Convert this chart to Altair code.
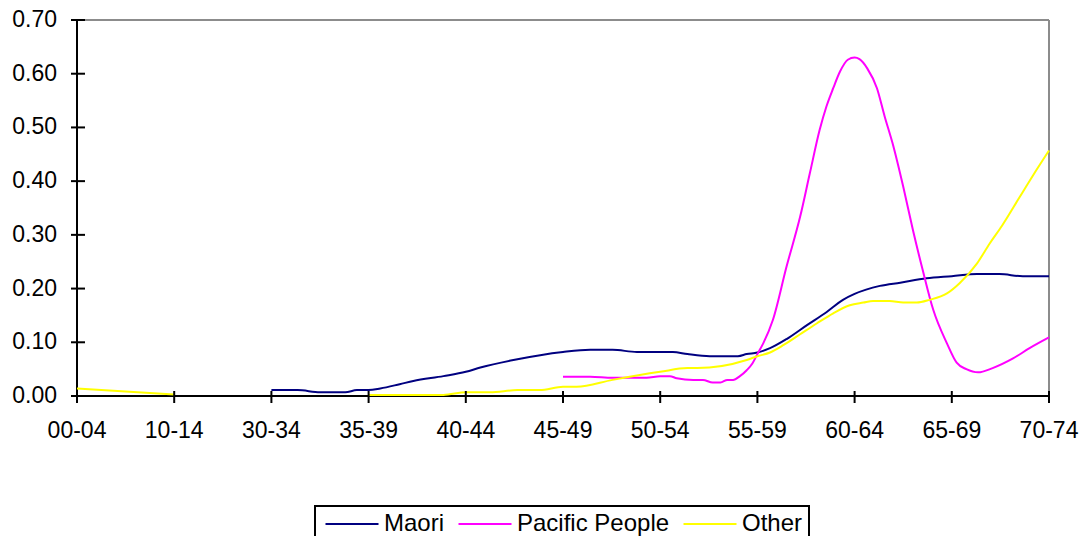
import altair as alt
import pandas as pd

# ---- data ----
age_labels = ["00-04", "10-14", "30-34", "35-39", "40-44", "45-49",
              "50-54", "55-59", "60-64", "65-69", "70-74"]
y_tick_values = [0.0, 0.1, 0.2, 0.3, 0.4, 0.5, 0.6, 0.7]
series_names = ["Maori", "Pacific People", "Other"]
series_colors = ["#000080", "#FF00FF", "#FFFF00"]

# positions are in age-group units (0 = "00-04" ... 10 = "70-74")
maori_pos = [2.0, 2.27, 2.5, 2.76, 2.88, 3.0, 3.12, 3.32, 3.46, 3.77, 4.0, 4.15,
             4.49, 5.0, 5.28, 5.51, 5.76, 6.0, 6.13, 6.28, 6.51, 6.8, 6.89, 7.0,
             7.13, 7.3, 7.51, 7.71, 7.88, 8.0, 8.26, 8.47, 8.74, 9.0, 9.26, 9.49,
             9.73, 10.0]
maori_val = [0.011, 0.011, 0.007, 0.007, 0.011, 0.011, 0.014, 0.022, 0.028, 0.037,
             0.045, 0.053, 0.067, 0.082, 0.086, 0.086, 0.082, 0.082, 0.082, 0.078,
             0.074, 0.074, 0.078, 0.081, 0.089, 0.106, 0.132, 0.156, 0.179, 0.190,
             0.205, 0.211, 0.219, 0.223, 0.227, 0.227, 0.223, 0.223]

pacific_pos = [5.0, 5.28, 5.51, 5.86, 6.0, 6.1, 6.17, 6.34, 6.44, 6.54, 6.62, 6.69,
               6.75, 6.82, 6.89, 6.95, 7.0, 7.06, 7.16, 7.3, 7.44, 7.54, 7.64, 7.71,
               7.78, 7.85, 7.93, 8.0, 8.05, 8.13, 8.23, 8.31, 8.39, 8.5, 8.6, 8.7,
               8.81, 8.95, 9.05, 9.15, 9.27, 9.42, 9.63, 9.8, 10.0]
pacific_val = [0.036, 0.036, 0.034, 0.034, 0.037, 0.037, 0.033, 0.030, 0.030, 0.025,
               0.025, 0.030, 0.030, 0.037, 0.048, 0.061, 0.078, 0.098, 0.142, 0.241,
               0.334, 0.415, 0.495, 0.539, 0.573, 0.604, 0.626, 0.630, 0.627, 0.610,
               0.573, 0.520, 0.471, 0.390, 0.309, 0.235, 0.160, 0.098, 0.062, 0.050,
               0.044, 0.052, 0.070, 0.089, 0.109]

other_pos = [0.0, 1.0,
             3.0, 3.12, 3.77, 4.0, 4.25, 4.53, 4.76, 5.0, 5.14, 5.51, 6.0, 6.28,
             6.38, 6.89, 7.0, 7.13, 7.27, 7.44, 7.61, 7.78, 7.95, 8.09, 8.19, 8.36,
             8.5, 8.64, 8.77, 8.95, 9.08, 9.26, 9.39, 9.52, 9.7, 9.84, 10.0]
other_val = [0.014, 0.003,
             0.002, 0.002, 0.002, 0.007, 0.007, 0.011, 0.011, 0.017, 0.017, 0.030,
             0.045, 0.052, 0.052, 0.067, 0.074, 0.081, 0.095, 0.115, 0.135, 0.154,
             0.169, 0.174, 0.177, 0.177, 0.174, 0.174, 0.179, 0.191, 0.210, 0.247,
             0.284, 0.318, 0.371, 0.412, 0.457]
other_seg = [1, 1] + [2] * (len(other_pos) - 2)

# ---- build the tables ----
rows = []
for p, v in zip(maori_pos, maori_val):
    rows.append({"series": "Maori", "seg": "Maori-1", "pos": p, "value": v})
for p, v in zip(pacific_pos, pacific_val):
    rows.append({"series": "Pacific People", "seg": "Pacific-1", "pos": p, "value": v})
for p, v, s in zip(other_pos, other_val, other_seg):
    rows.append({"series": "Other", "seg": f"Other-{s}", "pos": p, "value": v})
df = pd.DataFrame(rows)

xlab_df = pd.DataFrame({"pos": list(range(len(age_labels))), "label": age_labels})
ylab_df = pd.DataFrame({"v": y_tick_values})
frame_df = pd.DataFrame({"k": [0]})

W, H = 972, 376
FONT = "Liberation Sans"
FS = 23

xscale = alt.Scale(domain=[0, 10], nice=False, zero=False)
yscale = alt.Scale(domain=[0, 0.7], nice=False, zero=False)

lines = alt.Chart(df).mark_line(strokeWidth=2, interpolate="monotone").encode(
    x=alt.X("pos:Q", scale=xscale, axis=None),
    y=alt.Y("value:Q", scale=yscale, axis=None),
    color=alt.Color("series:N",
                    scale=alt.Scale(domain=series_names, range=series_colors),
                    sort=series_names,
                    legend=alt.Legend(orient="none", legendX=238, legendY=486,
                                      direction="horizontal", columns=3, title=None,
                                      strokeColor="black", fillColor="white",
                                      padding=6, labelFontSize=24, labelFont=FONT,
                                      labelColor="black",
                                      symbolType="M-5.3,0L5.3,0",
                                      symbolSize=100, symbolStrokeWidth=2,
                                      symbolOffset=19, labelOffset=20,
                                      columnPadding=9)),
    detail="seg:N",
)

# plot frame: grey top/right, black axis lines left/bottom
top_border = alt.Chart(frame_df).mark_rule(color="#8c8c8c", strokeWidth=2).encode(
    x=alt.value(0), x2=alt.value(W), y=alt.value(0))
right_border = alt.Chart(frame_df).mark_rule(color="#8c8c8c", strokeWidth=2).encode(
    x=alt.value(W), y=alt.value(0), y2=alt.value(H))
bottom_axis_line = alt.Chart(frame_df).mark_rule(color="black", strokeWidth=2).encode(
    x=alt.value(0), x2=alt.value(W), y=alt.value(H))
left_axis_line = alt.Chart(frame_df).mark_rule(color="black", strokeWidth=2).encode(
    x=alt.value(0), y=alt.value(0), y2=alt.value(H))

# crossing tick marks
xticks = alt.Chart(xlab_df).mark_rule(color="black", strokeWidth=2).encode(
    x=alt.X("pos:Q", scale=xscale, axis=None),
    y=alt.value(H - 5), y2=alt.value(H + 7))
yticks = alt.Chart(ylab_df).mark_rule(color="black", strokeWidth=2).encode(
    y=alt.Y("v:Q", scale=yscale, axis=None),
    x=alt.value(-6), x2=alt.value(8))

# tick labels
xlabels = alt.Chart(xlab_df).mark_text(
    font=FONT, fontSize=FS, color="black", align="center", baseline="top"
).encode(
    x=alt.X("pos:Q", scale=xscale, axis=None),
    y=alt.value(H + 24),
    text="label:N")
ylabels = alt.Chart(ylab_df).mark_text(
    font=FONT, fontSize=FS, color="black", align="right", baseline="middle"
).encode(
    y=alt.Y("v:Q", scale=yscale, axis=None),
    x=alt.value(-20),
    text=alt.Text("v:Q", format=".2f"))

chart = alt.layer(top_border, right_border, bottom_axis_line, left_axis_line,
                  lines, xticks, yticks, xlabels, ylabels).properties(
    width=W, height=H,
    autosize=alt.AutoSizeParams(type="none"),
    padding={"left": 77, "top": 20, "right": 34, "bottom": 140},
).configure_view(strokeWidth=0, strokeOpacity=0).configure(
    font=FONT).configure_legend(strokeWidth=2)

chart.save("out.html", embed_options={"renderer": "svg", "actions": False})
